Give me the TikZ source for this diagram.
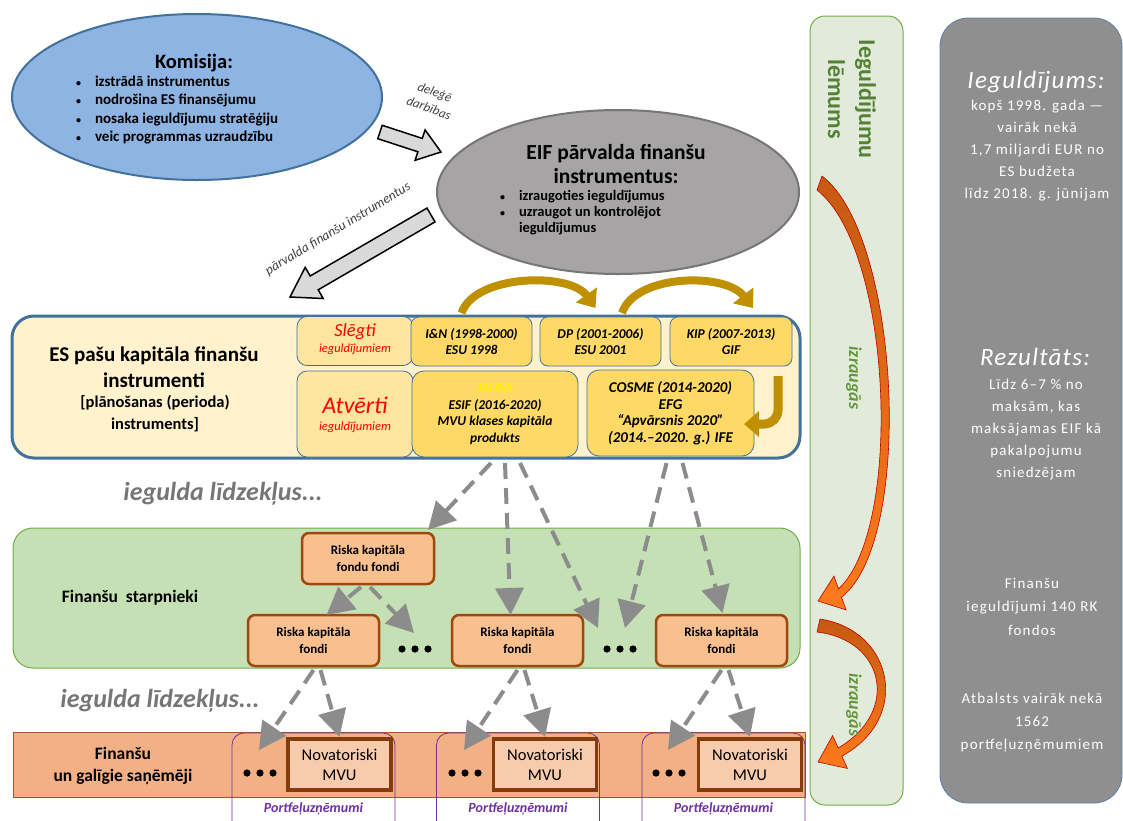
\documentclass[tikz,border=0pt]{standalone}
\usepackage{fontspec}
\setmainfont{Carlito}
\newfontfamily\varwide[LetterSpace=8]{Carlito}
\newfontfamily\varwidesm[LetterSpace=5]{Carlito}
\usetikzlibrary{arrows.meta,shapes.geometric}

\newcommand{\varfs}[2]{\fontsize{#1}{#2}\selectfont}
\newcommand{\varbul}{\makebox[19pt][l]{\fontsize{10}{10}\selectfont\textbullet}}
\newcommand{\vardots}[1]{\foreach \vardx in {-13,0,13} {\fill ([xshift=\vardx pt]#1) circle (3.6pt);}}
\definecolor{mykomfill}{RGB}{142,180,227}
\definecolor{mykomline}{RGB}{65,113,156}
\definecolor{myeiffill}{RGB}{166,164,164}
\definecolor{myeifline}{RGB}{118,118,118}
\definecolor{myesfill}{RGB}{255,242,204}
\definecolor{myesline}{RGB}{65,113,156}
\definecolor{mylightgold}{RGB}{254,229,160}
\definecolor{mygold}{RGB}{255,217,102}
\definecolor{mydarkgold}{RGB}{191,144,0}
\definecolor{myarrowgray}{RGB}{140,140,140}
\definecolor{mygreenfill}{RGB}{197,224,180}
\definecolor{mygreenline}{RGB}{112,173,71}
\definecolor{myrkfill}{RGB}{248,191,143}
\definecolor{myrkline}{RGB}{158,72,14}
\definecolor{mybandfill}{RGB}{243,176,132}
\definecolor{mybandline}{RGB}{165,85,40}
\definecolor{mynovfill}{RGB}{248,203,173}
\definecolor{mynovline}{RGB}{132,60,12}
\definecolor{mypurple}{RGB}{112,48,160}
\definecolor{mycolfill}{RGB}{226,234,218}
\definecolor{mytextgreen}{RGB}{84,130,53}
\definecolor{mylightgreen}{RGB}{100,150,60}
\definecolor{mygreyfill}{RGB}{143,143,143}
\definecolor{mygreyline}{RGB}{90,126,166}
\definecolor{mydarkorange}{RGB}{197,90,17}
\definecolor{mybrightorange}{RGB}{255,122,28}
\definecolor{myarrowred}{RGB}{192,0,0}
\definecolor{mylabelgray}{RGB}{64,64,64}
\definecolor{myiegulda}{RGB}{118,118,118}

\begin{document}
\begin{tikzpicture}[x=1pt, y=-1pt,
    every node/.style={inner sep=0pt, outer sep=0pt, align=center},
    bullets/.style={anchor=west, align=left, font=\bfseries\varfs{15}{18.3}},
    fatarrow/.style={draw=black, line width=1.5pt, fill=gray!30, line join=miter},
    yearbox/.style={draw=myesline, fill=mygold, line width=0.8pt, rounded corners=8pt,
        font=\bfseries\itshape\varfs{13.5}{16.5}},
    openbox/.style={draw=myesline, fill=mylightgold, line width=0.8pt, rounded corners=10pt},
    redtxt/.style={text=red, font=\itshape\varfs{12.5}{14}},
    rkbox/.style={draw=myrkline, fill=myrkfill, line width=2.5pt, rounded corners=7pt,
        minimum width=131pt, minimum height=51pt, font=\bfseries\varfs{13}{17}},
    novbox/.style={draw=mynovline, fill=mynovfill, line width=3.5pt,
        minimum width=103pt, minimum height=51pt, font=\varfs{16.5}{20}},
    portbox/.style={draw=mypurple, line width=0.8pt, rounded corners=12pt},
    porttxt/.style={text=mypurple, font=\bfseries\itshape\varfs{14}{16}},
    dasharrow/.style={draw=myarrowgray, line width=4pt, dash pattern=on 16pt off 9pt,
        -{Triangle[length=27pt,width=28pt]}},
    goldarrow/.style={draw=mydarkgold, line width=8pt, -{Triangle[length=16pt,width=25pt]}},
    iegulda/.style={text=myiegulda, font=\bfseries\itshape\varfs{26}{28}},
    greytxt/.style={text=white, font=\varwide\varfs{15}{22}},
    greytitle/.style={text=white, font=\varwidesm\itshape\varfs{25}{28}},
    orangearrow/.style={draw=myarrowred, line width=0.6pt, top color=mydarkorange,
        bottom color=mybrightorange}
]
\useasboundingbox (0,0) rectangle (1123,820);

	% komisija and eif
	\node[ellipse, draw=mykomline, line width=2pt, fill=mykomfill,
	    minimum width=370pt, minimum height=166pt] (komisija) at (197,97) {};
	\node[font=\bfseries\varfs{20.5}{23}] (komtitle) at (194,63) {Komisija:};
	\node[bullets] (komlist) at (76,110) {\varbul izstrādā instrumentus\\
	    \varbul nodrošina ES finansējumu\\\varbul nosaka ieguldījumu stratēģiju\\
	    \varbul veic programmas uzraudzību};

	\node[ellipse, draw=myeifline, line width=2pt, fill=myeiffill,
	    minimum width=362pt, minimum height=164pt] (eif) at (618,192) {};
	\node[font=\bfseries\varfs{21.5}{24}] (eiftitle) at (616,164) {EIF pārvalda finanšu\\instrumentus:};
	\node[bullets, font=\bfseries\varfs{14.5}{15.8}] (eiflist) at (500,212.5)
	    {\varbul izraugoties ieguldījumus\\\varbul uzraugot un kontrolējot\\
	    \hspace*{19pt}ieguldījumus};

	% fat arrows
	\draw[fatarrow] (382.2,125.3) -- (422.3,138.4) -- (425.1,129.9) -- (441,152)
	    -- (415.1,160.3) -- (417.9,151.8) -- (377.8,138.7) -- cycle;
	\draw[fatarrow] (427.0,208.1) -- (310.2,276.0) -- (305.2,267.3) -- (290,297)
	    -- (323.2,298.5) -- (318.2,289.8) -- (435.0,221.9) -- cycle;
	\node[rotate=-20, text=mylabelgray, font=\itshape\varfs{13}{17}] (delegtxt) at (432,100) {deleģē\\darbības};
	\node[rotate=31, text=mylabelgray, font=\itshape\varfs{13.5}{15}] (mantxt) at (338,229) {pārvalda finanšu instrumentus};

	% es instruments
	\node[draw=myesline, fill=myesfill, line width=3pt, rounded corners=22pt,
	    minimum width=788pt, minimum height=142pt] (es) at (406,387) {};
	\node[font=\bfseries\varfs{21}{26}] (estitle) at (154,367) {ES pašu kapitāla finanšu\\instrumenti};
	\node[font=\bfseries\varfs{16.5}{22}] (essub) at (155,414) {[plānošanas (perioda)\\instruments]};

	\node[openbox, minimum width=116pt, minimum height=49pt] (slegti) at (355,341) {};
	\node[openbox, minimum width=116pt, minimum height=86pt] (atverti) at (355,414) {};
	\node[redtxt, font=\itshape\varfs{18.5}{20}] (slegtitxt) at (355,332) {Slēgti};
	\node[redtxt] (slegtisub) at (355,349) {ieguldījumiem};
	\node[redtxt, font=\itshape\varfs{24}{25}] (atvertitxt) at (355,405) {Atvērti};
	\node[redtxt] (atvertisub) at (355,427) {ieguldījumiem};

	\node[yearbox, minimum width=121pt, minimum height=49pt] (inn) at (471.5,341.5) {I\&N (1998-2000)\\ESU 1998};
	\node[yearbox, minimum width=121pt, minimum height=49pt] (dp) at (600.5,341.5) {DP (2001-2006)\\ESU 2001};
	\node[yearbox, minimum width=122pt, minimum height=49pt] (kip) at (731,341.5) {KIP (2007-2013)\\GIF};
	\node[yearbox, rounded corners=12pt, minimum width=166pt, minimum height=86pt] (jauns) at (495,414)
	    {{\color{yellow}JAUNS}\\ESIF (2016-2020)\\MVU klases kapitāla\\produkts};
	\node[yearbox, font=\bfseries\itshape\varfs{15}{16.5}, rounded corners=12pt,
	    minimum width=167pt, minimum height=86pt] (cosme) at (670.5,413)
	    {COSME (2014-2020)\\EFG\\“Apvārsnis 2020”\\(2014.–2020. g.) IFE};

	\draw[goldarrow] ([xshift=-10pt,yshift=4pt]inn.north) .. controls (475,274) and (570,272) .. ([xshift=-5pt,yshift=9pt]dp.north);
	\draw[goldarrow] ([xshift=21.5pt,yshift=4pt]dp.north) .. controls (635,274) and (725,272) .. ([xshift=22pt,yshift=9pt]kip.north);
	\draw[draw=mydarkgold, line width=9pt, -{Triangle[length=15pt,width=25pt]}]
	    (778,376) -- (778,410) to[out=-90,in=0] (764,424) -- (744,424);

	% captions
	\node[iegulda] (iegulda1) at (223,494) {iegulda līdzekļus...};
	\node[iegulda] (iegulda2) at (160,701) {iegulda līdzekļus...};

	% finansu starpnieki
	\node[draw=mygreenline, fill=mygreenfill, line width=1pt, rounded corners=20pt,
	    minimum width=787pt, minimum height=140pt] (starp) at (406.5,598) {};
	\node[font=\bfseries\varfs{17.5}{18}] (starptxt) at (130,598) {Finanšu\ \ starpnieki};
	\node[rkbox, minimum width=132pt] (rkff) at (368,558.5) {Riska kapitāla\\fondu fondi};
	\node[rkbox] (rka) at (313.5,640.5) {Riska kapitāla\\fondi};
	\node[rkbox] (rkb) at (517.5,640.5) {Riska kapitāla\\fondi};
	\node[rkbox] (rkc) at (721.5,640.5) {Riska kapitāla\\fondi};
	\coordinate (dotsa) at (415,649);
	\coordinate (dotsb) at (620,649);
	\vardots{dotsa}
	\vardots{dotsb}

	% galigie sanemeji
	\node[draw=mybandline, fill=mybandfill, line width=0.8pt,
	    minimum width=792pt, minimum height=65pt] (band) at (409,764.5) {};
	\node[font=\bfseries\varfs{17.5}{22}] (bandtxt) at (123,766) {Finanšu\\un galīgie saņēmēji};
	\foreach \varname/\varx in {a/313.5, b/518, c/723.5} {
	    \draw[portbox] (\varx-81.5,733) rectangle (\varx+81.5,840);
	    \node[porttxt] (port\varname) at (\varx,809) {Portfeļuzņēmumi};
	}
	\node[novbox] (nova) at (339.5,764.5) {Novatoriski\\MVU};
	\node[novbox] (novb) at (545,764.5) {Novatoriski\\MVU};
	\node[novbox] (novc) at (750,764.5) {Novatoriski\\MVU};
	\coordinate (dotsc) at (260,773);
	\coordinate (dotsd) at (465,773);
	\coordinate (dotse) at (669,773);
	\vardots{dotsc}
	\vardots{dotsd}
	\vardots{dotse}

	% dashed arrows
	\draw[dasharrow] ([xshift=-4pt,yshift=-6pt]jauns.south) -- ([xshift=-6pt,yshift=3pt]rkff.north east);
	\draw[dasharrow] ([xshift=10pt,yshift=-6pt]jauns.south) -- ([xshift=-7pt]rkb.north);
	\draw[dasharrow] ([xshift=25pt,yshift=-6pt]jauns.south) -- ([xshift=-22pt,yshift=21pt]dotsb);
	\draw[dasharrow] ([xshift=-4pt,yshift=-7pt]cosme.south) -- ([xshift=5pt,yshift=21pt]dotsb);
	\draw[dasharrow] ([xshift=12pt,yshift=-7pt]cosme.south) -- ([xshift=1pt,yshift=2pt]rkc.north);
	\draw[dasharrow] ([xshift=-7pt,yshift=-3pt]rkff.south) -- ([xshift=13pt]rka.north);
	\draw[dasharrow] ([xshift=2pt,yshift=-3pt]rkff.south) -- ([xshift=-1pt,yshift=16pt]dotsa);
	\foreach \varfrom/\varto/\varnov in {rka/dotsc/nova, rkb/dotsd/novb, rkc/dotse/novc} {
	    \draw[dasharrow] ([yshift=-4pt]\varfrom.south) -- ([xshift=-1pt,yshift=23pt]\varto);
	    \draw[dasharrow] ([xshift=7pt,yshift=-4pt]\varfrom.south) -- ([yshift=2pt]\varnov.north);
	}

	% lemums column
	\node[draw=mygreenline, fill=mycolfill, line width=1pt, rounded corners=15pt,
	    minimum width=93pt, minimum height=789pt] (lemcol) at (856.5,410.5) {};
	\node[rotate=-90, text=mytextgreen, font=\bfseries\varfs{24}{31}] (lemtxt) at (852,99) {Ieguldījumu\\lēmums};
	\path[orangearrow] (822,176) .. controls (900,235) and (915,540) .. (841.5,597.2)
	    -- (846.1,609.9) -- (818,601) -- (833.9,576.1) -- (838.5,588.8)
	    .. controls (903,530) and (893,250) .. (817,190) -- cycle;
	\path[orangearrow] (820,619) .. controls (893,630) and (912,718) .. (841.8,756.1)
	    -- (847.4,768.4) -- (818,762) -- (832.6,735.6) -- (838.2,747.9)
	    .. controls (900,712) and (885,640) .. (817,632) -- cycle;
	\node[rotate=-90, text=mylightgreen, font=\bfseries\itshape\varfs{18}{19}] (izr1) at (854,378) {izraugās};
	\node[rotate=-90, text=mylightgreen, font=\bfseries\itshape\varfs{18}{19}] (izr2) at (854,705) {izraugās};

	% result column
	\node[draw=mygreyline, fill=mygreyfill, line width=0.8pt, rounded corners=28pt,
	    minimum width=182pt, minimum height=785pt] (rescol) at (1031,410.5) {};
	\node[greytitle] (invtitle) at (1036,82) {Ieguldījums:};
	\node[greytxt] (invtxt) at (1037,151) {kopš 1998. gada —\\vairāk nekā\\1,7 miljardi EUR no\\ES budžeta\\līdz 2018. g. jūnijam};
	\node[greytitle] (restitle) at (1035,357) {Rezultāts:};
	\node[greytxt] (restxt) at (1036,429.5) {Līdz 6–7 \% no\\maksām, kas\\maksājamas EIF kā\\pakalpojumu\\sniedzējam};
	\node[greytxt, font=\varwide\varfs{15}{23.5}] (fondtxt) at (1032,606.5) {Finanšu\\ieguldījumi 140 RK\\fondos};
	\node[greytxt, font=\varwide\varfs{15}{23}] (portftxt) at (1032,723) {Atbalsts vairāk nekā\\1562\\portfeļuzņēmumiem};
\end{tikzpicture}
\end{document}
